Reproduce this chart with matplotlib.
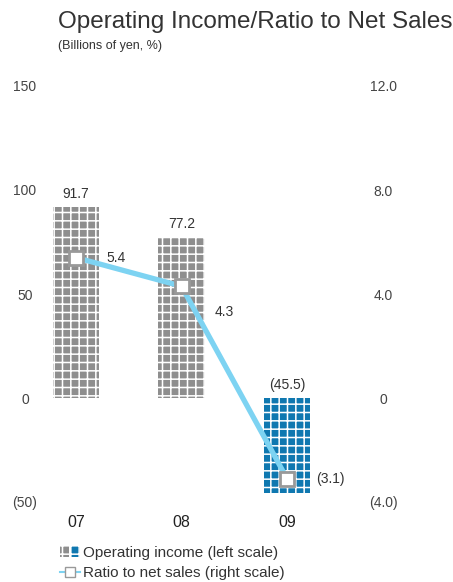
import numpy as np
import matplotlib
matplotlib.use("Agg")
from matplotlib import pyplot as plt
from matplotlib.patches import Patch
from matplotlib.lines import Line2D
from matplotlib.legend_handler import HandlerTuple

plt.rcParams['font.family'] = ['Liberation Sans', 'DejaVu Sans']
plt.rcParams['hatch.linewidth'] = 1.1

years = ["07", "08", "09"]
income = [91.7, 77.2, -45.5]          # billions of yen, left scale
ratio = [5.4, 4.3, -3.1]              # %, right scale
income_labels = ["91.7", "77.2", "(45.5)"]
ratio_labels = ["5.4", "4.3", "(3.1)"]
left_ticks = [-50, 0, 50, 100, 150]
left_ticklabels = ["(50)", "0", "50", "100", "150"]
right_ticks = [-4, 0, 4, 8, 12]
right_ticklabels = ["(4.0)", "0", "4.0", "8.0", "12.0"]

W, H = 453, 582
fig = plt.figure(figsize=(W / 100, H / 100), dpi=100)

# axes box in pixels: x 50..340, y 86..502 (from top)
ax = fig.add_axes([50 / W, (H - 502) / H, 290 / W, 416 / H])
x = np.arange(len(years))
step = 105.5
ax.set_xlim(-(76 - 50) / step, 2 + (340 - 287) / step)
ax.set_ylim(-50, 150)

gray = "#8e8e8e"
blue = "#0f78b0"
txt = "#333333"
cols = [gray if v >= 0 else blue for v in income]
ax.bar(x, income, width=0.44, color=cols, edgecolor="white", linewidth=0,
       hatch="++", zorder=2)

for xi, v, lab in zip(x, income, income_labels):
    yy = v if v > 0 else 0
    ax.text(xi, yy + 3, lab, ha="center", va="bottom", fontsize=10, color=txt)

ax2 = ax.twinx()
ax2.set_ylim(-4, 12)
ax2.plot(x, ratio, color="#7dd3f2", lw=3.8, marker="s", markersize=10,
         markerfacecolor="white", markeredgecolor="#999999", markeredgewidth=2,
         zorder=3, solid_capstyle="butt")

offs = [(0.29, 0.0), (0.31, -1.0), (0.28, 0.0)]
for xi, v, lab, (dx, dy) in zip(x, ratio, ratio_labels, offs):
    ax2.text(xi + dx, v + dy, lab, ha="left", va="center", fontsize=10, color=txt)

for a in (ax, ax2):
    for s in a.spines.values():
        s.set_visible(False)

ax.set_yticks(left_ticks)
ax.set_yticklabels(left_ticklabels)
ax.tick_params(axis="y", length=0, pad=18, labelsize=10, labelcolor="#444444")
for t in ax.get_yticklabels():
    t.set_ha("center")
ax2.set_yticks(right_ticks)
ax2.set_yticklabels(right_ticklabels)
ax2.tick_params(axis="y", length=0, pad=31, labelsize=10, labelcolor="#444444")
for t in ax2.get_yticklabels():
    t.set_ha("center")

ax.set_xticks(x)
ax.set_xticklabels(years)
ax.tick_params(axis="x", length=0, pad=9.5, labelsize=11.5, labelcolor="#222222")

fig.text(58 / W, 1 - 22 / H, "Operating Income/Ratio to Net Sales", fontsize=17.5,
         color=txt, va="center", ha="left")
fig.text(58 / W, 1 - 46 / H, "(Billions of yen, %)", fontsize=9, color=txt,
         va="center", ha="left")

h_bar = (Patch(facecolor=gray, edgecolor="white", linewidth=0, hatch="++"),
         Patch(facecolor=blue, edgecolor="white", linewidth=0, hatch="++"))
h_line = Line2D([], [], color="#7dd3f2", lw=1.5, marker="s", markersize=7,
                markerfacecolor="white", markeredgecolor="#999999", markeredgewidth=1)
fig.legend([h_bar, h_line],
           ["Operating income (left scale)", "Ratio to net sales (right scale)"],
           handler_map={tuple: HandlerTuple(ndivide=None, pad=0.1)},
           loc="upper left", bbox_to_anchor=(52 / W, 1 - 538 / H), frameon=False,
           fontsize=11, handlelength=1.35, handletextpad=0.2, labelspacing=0.42,
           borderpad=0, labelcolor=txt)

fig.savefig("out.png", dpi=100)
